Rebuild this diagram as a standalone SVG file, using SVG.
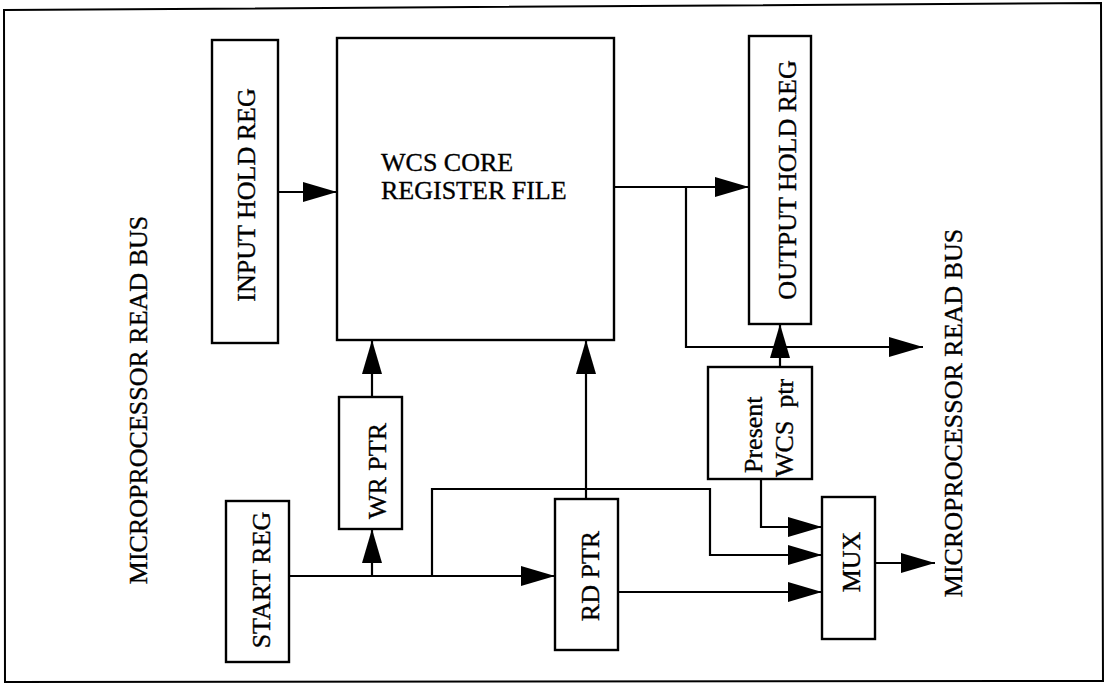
<svg xmlns="http://www.w3.org/2000/svg" width="1109" height="684" viewBox="0 0 1109 684">
  <style>
    .box { fill: #ffffff; stroke: #000000; stroke-width: 2.4; }
    .wire { fill: none; stroke: #000000; stroke-width: 2.2; marker-end: url(#arr); }
    .lbl { font-family: "Liberation Serif", "Times New Roman", serif; font-size: 26px; fill: #000000; stroke: #000000; stroke-width: 0.35; }
    .mid { text-anchor: middle; }
  </style>
  <defs>
    <marker id="arr" markerUnits="userSpaceOnUse" markerWidth="34" markerHeight="20" refX="34" refY="10" orient="auto">
      <path d="M0,0 L34,10 L0,20 Z" fill="#000000"/>
    </marker>
  </defs>
  <rect width="1109" height="684" fill="#ffffff"/>
  <path id="frame" d="M4,10 L1101,3 L1103,681 L5,682 Z" fill="none" stroke="#000000" stroke-width="2"/>

  <g id="bus-left">
    <text class="lbl mid" transform="translate(147,400) rotate(-90)">MICROPROCESSOR READ BUS</text>
  </g>
  <g id="bus-right">
    <text class="lbl mid" transform="translate(962,413) rotate(-90)">MICROPROCESSOR READ BUS</text>
  </g>

  <g id="input-hold-reg">
    <rect class="box" x="212" y="40" width="66" height="303"/>
    <text class="lbl mid" transform="translate(255,195) rotate(-90)">INPUT HOLD REG</text>
  </g>
  <g id="wcs-core">
    <rect class="box" x="337" y="38" width="277" height="302"/>
    <text class="lbl" x="381" y="171">WCS CORE</text>
    <text class="lbl" x="381" y="199">REGISTER FILE</text>
  </g>
  <g id="output-hold-reg">
    <rect class="box" x="749" y="36" width="62" height="288"/>
    <text class="lbl mid" transform="translate(796,180) rotate(-90)">OUTPUT HOLD REG</text>
  </g>
  <g id="wr-ptr">
    <rect class="box" x="339" y="397" width="63" height="132"/>
    <text class="lbl mid" transform="translate(386,471) rotate(-90)">WR PTR</text>
  </g>
  <g id="start-reg">
    <rect class="box" x="226" y="501" width="63" height="161"/>
    <text class="lbl mid" transform="translate(270,580) rotate(-90)">START REG</text>
  </g>
  <g id="rd-ptr">
    <rect class="box" x="555" y="499" width="63" height="151"/>
    <text class="lbl mid" transform="translate(599,576) rotate(-90)">RD PTR</text>
  </g>
  <g id="present-wcs-ptr">
    <rect class="box" x="708" y="367" width="104" height="112"/>
    <text class="lbl" transform="translate(762,473) rotate(-90)">Present</text>
    <text class="lbl" style="white-space:pre" transform="translate(793,477) rotate(-90)">WCS  ptr</text>
  </g>
  <g id="mux">
    <rect class="box" x="822" y="497" width="53" height="142"/>
    <text class="lbl mid" transform="translate(860,562) rotate(-90)">MUX</text>
  </g>

  <g id="connectors">
    <path class="wire" d="M278,192 L337,192"/>
    <path class="wire" d="M614,187 L749,187"/>
    <path class="wire" d="M686,187 L686,347 L923,347"/>
    <path class="wire" d="M780,367 L780,324"/>
    <path class="wire" d="M372,397 L372,340"/>
    <path class="wire" d="M289,576 L555,576"/>
    <path class="wire" d="M372,576 L372,529"/>
    <path class="wire" d="M432,576 L432,489 L710,489 L710,555 L822,555"/>
    <path class="wire" d="M586,499 L586,340"/>
    <path class="wire" d="M761,479 L761,527 L822,527"/>
    <path class="wire" d="M618,592 L822,592"/>
    <path class="wire" d="M875,563 L935,563"/>
  </g>
</svg>
